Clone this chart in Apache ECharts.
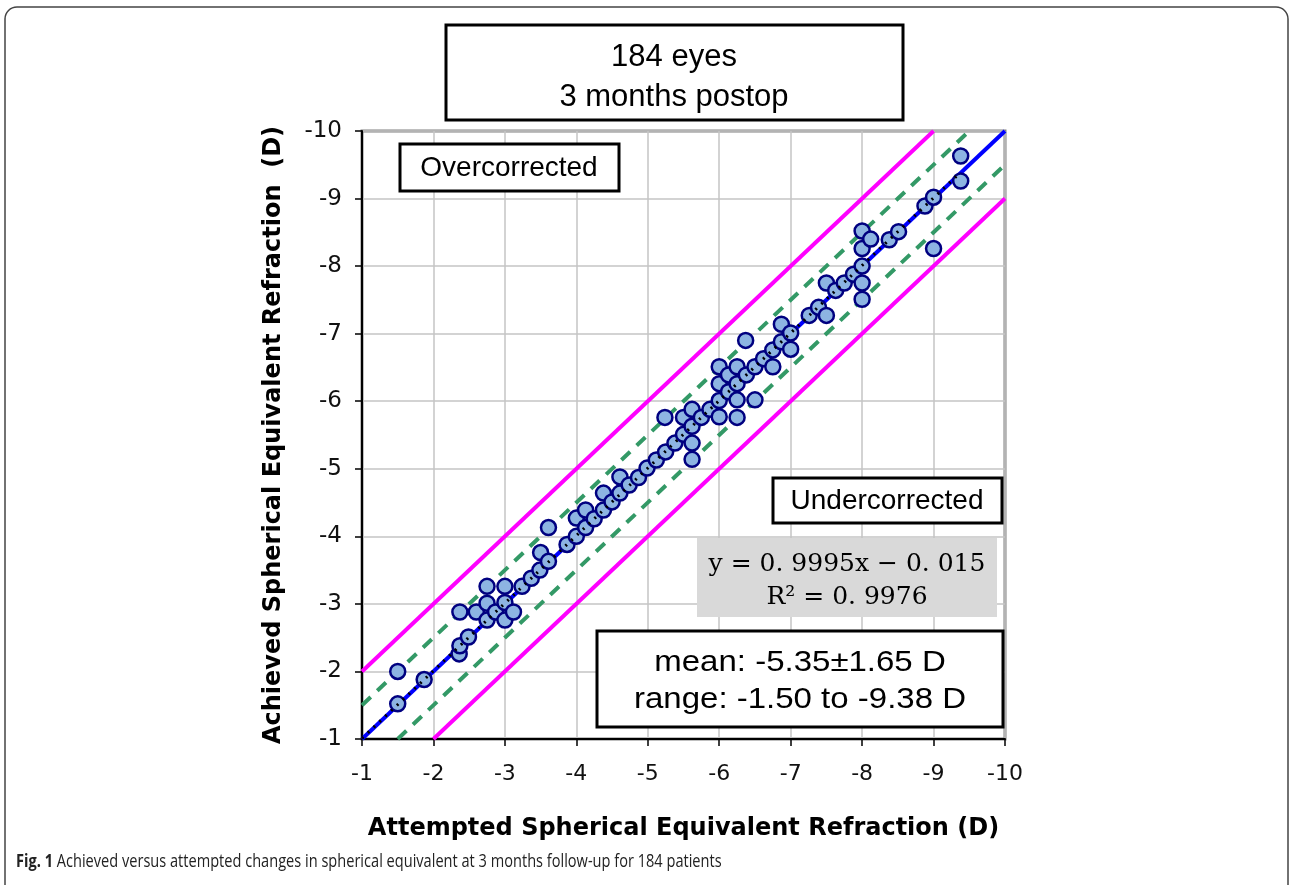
<!DOCTYPE html>
<html>
<head>
<meta charset="utf-8">
<script src="https://cdn.jsdelivr.net/npm/echarts@6/dist/echarts.min.js"></script>
<style>
  html, body { margin: 0; padding: 0; background: #fff; }
  #app { width: 1292px; height: 885px; }
</style>
</head>
<body>
<div id="app"></div>
<script>
// attempted (x) and achieved (y) refraction
const attempted = [
  -1.5, -1.5, -1.87, -2.36, -2.37, -2.49, -2.37, -2.6, -2.75, -2.75,
  -2.75, -2.87, -3.0, -3.0, -3.0, -3.12, -3.24, -3.37, -3.49, -3.5,
  -3.61, -3.61, -3.87, -4.0, -4.0, -4.13, -4.13, -4.25, -4.38, -4.38,
  -4.5, -4.61, -4.61, -4.74, -4.87, -4.99, -5.12, -5.25, -5.24, -5.38,
  -5.5, -5.5, -5.62, -5.62, -5.62, -5.62, -5.75, -5.87, -6.0, -6.0,
  -6.0, -6.0, -6.13, -6.13, -6.25, -6.25, -6.25, -6.25, -6.38, -6.5,
  -6.5, -6.62, -6.75, -6.75, -6.37, -6.87, -6.87, -7.0, -7.0, -7.26,
  -7.39, -7.5, -7.5, -7.63, -7.75, -7.88, -8.0, -8.0, -8.0, -8.0,
  -8.0, -8.12, -8.38, -8.51, -8.88, -9.0, -9.0, -9.38, -9.38
]
const achieved = [
  -2.0, -1.52, -1.88, -2.26, -2.38, -2.51, -2.88, -2.88, -3.01, -3.26,
  -2.76, -2.88, -3.26, -3.02, -2.76, -2.88, -3.26, -3.38, -3.5, -3.76,
  -3.63, -4.13, -3.88, -4.0, -4.27, -4.13, -4.39, -4.26, -4.39, -4.64,
  -4.51, -4.64, -4.88, -4.76, -4.87, -5.01, -5.13, -5.25, -5.76, -5.38,
  -5.51, -5.76, -5.63, -5.88, -5.38, -5.14, -5.76, -5.88, -6.01, -6.26,
  -6.51, -5.77, -6.14, -6.39, -6.26, -6.51, -6.02, -5.76, -6.39, -6.02,
  -6.51, -6.63, -6.51, -6.76, -6.9, -6.88, -7.14, -7.01, -6.77, -7.27,
  -7.39, -7.27, -7.75, -7.64, -7.75, -7.88, -8.0, -7.75, -7.51, -8.26,
  -8.52, -8.4, -8.39, -8.51, -8.89, -9.02, -8.26, -9.26, -9.63
]

// reference lines: [x, y] end points
const identity = [[-1, -1], [-10, -10]]
const over1D = [[-1, -2], [-9, -10]]
const under1D = [[-2, -1], [-10, -9]]
const over05D = [[-1, -1.5], [-9.5, -10]]
const under05D = [[-1.5, -1], [-10, -9.5]]
const trend = [[-1, -1.01], [-9.38, -9.39]]

const echart = echarts.init(document.getElementById('app'))

const boxFont = '"Liberation Sans", Arial, sans-serif'
const axisFont = '"DejaVu Sans", Verdana, sans-serif'

function box(x, y, w, h, fill) {
  return {
    type: 'rect',
    shape: { x, y, width: w, height: h },
    style: { fill: fill || '#fff', stroke: fill ? null : '#000', lineWidth: 3 },
    z: 100
  }
}
function label(text, x, y, size, family, sx) {
  return {
    type: 'text',
    x, y,
    scaleX: sx || 1,
    style: {
      text,
      fill: '#000',
      fontSize: size,
      fontFamily: family || boxFont,
      align: 'center',
      verticalAlign: 'middle'
    },
    z: 101
  }
}

const guide = (data, color, type) => ({
  type: 'line',
  data,
  symbol: 'none',
  silent: true,
  z: 3,
  lineStyle: { color, width: 4, type: type || 'solid' }
})

echart.setOption({
  animation: false,
  grid: {
    left: 362,
    right: 287,
    top: 131,
    bottom: 146,
    show: true,
    borderColor: '#808080',
    borderWidth: 3
  },
  xAxis: {
    type: 'value',
    min: -10,
    max: -1,
    interval: 1,
    inverse: true,
    name: 'Attempted Spherical Equivalent Refraction (D)',
    nameLocation: 'middle',
    nameGap: 78,
    nameTextStyle: {
      fontFamily: axisFont,
      fontWeight: 'bold',
      fontSize: 24,
      color: '#000'
    },
    axisLine: { show: true, lineStyle: { color: '#000', width: 2 } },
    axisTick: { show: true, inside: false, length: 7, lineStyle: { color: '#000', width: 1.5 } },
    axisLabel: {
      color: '#111',
      fontSize: 22,
      fontFamily: axisFont,
      margin: 24
    },
    splitLine: { lineStyle: { color: '#c4c4c4', width: 1.5 } }
  },
  yAxis: {
    type: 'value',
    min: -10,
    max: -1,
    interval: 1,
    inverse: true,
    name: 'Achieved Spherical Equivalent Refraction  (D)',
    nameLocation: 'middle',
    nameGap: 76,
    nameRotate: 90,
    nameTextStyle: {
      fontFamily: axisFont,
      fontWeight: 'bold',
      fontSize: 24,
      color: '#000'
    },
    axisLine: { show: true, lineStyle: { color: '#000', width: 2 } },
    axisTick: { show: true, inside: false, length: 7, lineStyle: { color: '#000', width: 1.5 } },
    axisLabel: {
      color: '#111',
      fontSize: 23,
      fontFamily: axisFont,
      margin: 20
    },
    splitLine: { lineStyle: { color: '#c4c4c4', width: 1.5 } }
  },
  series: [
    guide(over1D, '#ff00ff'),
    guide(under1D, '#ff00ff'),
    guide(over05D, '#339966', [12, 9]),
    guide(under05D, '#339966', [12, 9]),
    guide(identity, '#0000ff'),
    {
      type: 'scatter',
      data: attempted.map((v, i) => [v, achieved[i]]),
      symbol: 'circle',
      symbolSize: 15,
      z: 4,
      itemStyle: {
        color: '#8db4e2',
        borderColor: '#000080',
        borderWidth: 2.5,
        opacity: 1
      }
    },
    {
      type: 'line',
      data: trend,
      symbol: 'none',
      silent: true,
      z: 5,
      lineStyle: { color: '#000', width: 3, type: [2, 6] }
    }
  ],
  graphic: [
    // outer figure frame
    {
      type: 'rect',
      shape: { x: 5, y: 7, width: 1283, height: 900, r: 12 },
      style: { fill: null, stroke: '#444', lineWidth: 1.5 },
      z: 1
    },
    box(446, 25, 457, 95),
    label('184 eyes', 674, 57, 31),
    label('3 months postop', 674, 97, 31),

    box(400, 144, 219, 47),
    label('Overcorrected', 509, 168, 28),

    box(773, 478, 229, 45),
    label('Undercorrected', 887, 501, 28),

    box(697, 538, 300, 79, '#d9d9d9'),
    label('y = 0. 9995x − 0. 015', 847, 564, 25, '"DejaVu Serif", "Liberation Serif", serif'),
    label('R² = 0. 9976', 847, 597, 25, '"DejaVu Serif", "Liberation Serif", serif'),

    box(597, 631, 406, 96),
    label('mean: -5.35±1.65 D', 800, 663, 30, null, 1.1),
    label('range: -1.50 to -9.38 D', 800, 700, 30, null, 1.1),

    {
      type: 'text',
      x: 16,
      y: 862,
      scaleX: 0.81,
      style: {
        text: '{b|Fig. 1} Achieved versus attempted changes in spherical equivalent at 3 months follow-up for 184 patients',
        fill: '#222',
        fontSize: 18,
        fontFamily: '"Open Sans", sans-serif',
        verticalAlign: 'middle',
        rich: {
          b: { fontWeight: 'bold', fontSize: 18, fontFamily: '"Open Sans", sans-serif', fill: '#222' }
        }
      },
      z: 101
    }
  ]
})
</script>
</body>
</html>
